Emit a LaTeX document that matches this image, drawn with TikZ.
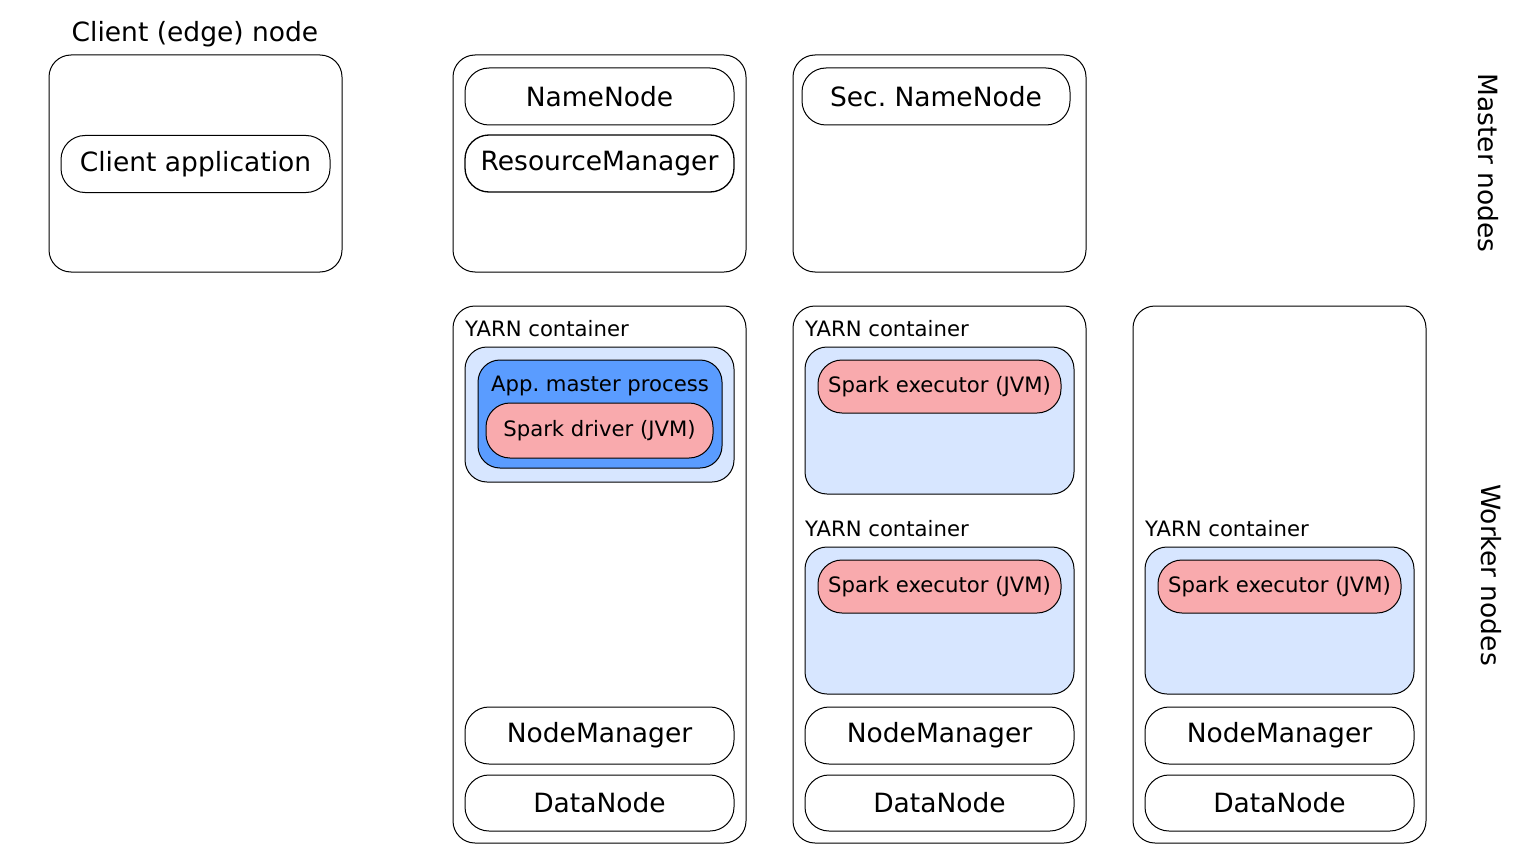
\documentclass[tikz,border=0pt]{standalone}
\usepackage{fontspec}
\setmainfont{DejaVu Sans}
\frenchspacing
\definecolor{ycblue}{HTML}{D7E6FF}
\definecolor{amblue}{HTML}{5A9CFF}
\definecolor{jvmpink}{HTML}{F9AAAD}
\newcommand{\bigf}{\fontsize{26.5}{31}\selectfont}
\newcommand{\smallf}{\fontsize{21.2}{25}\selectfont}
\tikzset{
  hostbox/.style={draw=black, line width=1pt, rounded corners=22pt, inner sep=0pt, fill=white},
  svcbox/.style={draw=black, line width=1pt, rounded corners=24pt, inner sep=0pt, minimum width=269pt, minimum height=57pt, font=\bigf},
  ycbox/.style={draw=black, line width=1pt, rounded corners=22pt, inner sep=0pt, fill=ycblue, minimum width=269pt},
  jvmbox/.style={draw=black, line width=1pt, rounded corners=24pt, inner sep=0pt, fill=jvmpink, font=\smallf},
  amstyle/.style={draw=black, line width=1pt, rounded corners=22pt, inner sep=0pt, fill=amblue},
  lbl/.style={inner sep=0pt, font=\smallf},
  biglbl/.style={inner sep=0pt, font=\bigf},
}
\begin{document}
\begin{tikzpicture}[x=1pt,y=-1pt]
\useasboundingbox (0,0) rectangle (1536,864);
% client
\node[biglbl] (clienttitle) at (195,34) {Client (edge) node};
\node[hostbox, minimum width=293pt, minimum height=217pt] (client) at (195.5,163.5) {};
\node[svcbox] (clientapp) at (195.5,164) {Client application};
% master 1
\node[hostbox, minimum width=293pt, minimum height=217pt] (master1) at (599.5,163.5) {};
\node[svcbox] (nn) at (599.5,96.5) {NameNode};
\node[svcbox, line width=1.3pt] (rm) at (599.5,163.5) {ResourceManager};
% master 2
\node[hostbox, minimum width=293pt, minimum height=217pt] (master2) at (939.5,163.5) {};
\node[svcbox, minimum width=268pt] (snn) at (936,96.5) {Sec. NameNode};
% worker 1
\node[hostbox, minimum width=293pt, minimum height=537pt] (worker1) at (599.5,574.5) {};
\node[lbl, anchor=west] (yc1lbl) at (465,329) {YARN container};
\node[ycbox, minimum height=135pt] (yc1) at (599.5,414.5) {};
\node[amstyle, minimum width=244pt, minimum height=108pt] (am) at (600,414) {};
\node[lbl] (amlbl) at (600,386) {App. master process};
\node[jvmbox, minimum width=227pt, minimum height=55pt] (driver) at (599.5,430.5) {Spark driver (JVM)};
\node[svcbox] (nm1) at (599.5,735.5) {NodeManager};
\node[svcbox, minimum height=56pt] (dn1) at (599.5,803) {DataNode};
% worker 2
\node[hostbox, minimum width=293pt, minimum height=537pt] (worker2) at (939.5,574.5) {};
\node[lbl, anchor=west] (yc2albl) at (805,329) {YARN container};
\node[ycbox, minimum height=147pt] (yc2a) at (939.5,420.5) {};
\node[jvmbox, minimum width=243pt, minimum height=53pt] (ex2a) at (939.5,386.5) {Spark executor (JVM)};
\node[lbl, anchor=west] (yc2blbl) at (805,529) {YARN container};
\node[ycbox, minimum height=147pt] (yc2b) at (939.5,620.5) {};
\node[jvmbox, minimum width=243pt, minimum height=53pt] (ex2b) at (939.5,586.5) {Spark executor (JVM)};
\node[svcbox] (nm2) at (939.5,735.5) {NodeManager};
\node[svcbox, minimum height=56pt] (dn2) at (939.5,803) {DataNode};
% worker 3
\node[hostbox, minimum width=293pt, minimum height=537pt] (worker3) at (1279.5,574.5) {};
\node[lbl, anchor=west] (yc3lbl) at (1145,529) {YARN container};
\node[ycbox, minimum height=147pt] (yc3) at (1279.5,620.5) {};
\node[jvmbox, minimum width=243pt, minimum height=53pt] (ex3) at (1279.5,586.5) {Spark executor (JVM)};
\node[svcbox] (nm3) at (1279.5,735.5) {NodeManager};
\node[svcbox, minimum height=56pt] (dn3) at (1279.5,803) {DataNode};
% side labels
\node[biglbl, rotate=-90] (masterlbl) at (1488,163) {Master nodes};
\node[biglbl, rotate=-90] (workerlbl) at (1491,575) {Worker nodes};
\end{tikzpicture}
\end{document}
